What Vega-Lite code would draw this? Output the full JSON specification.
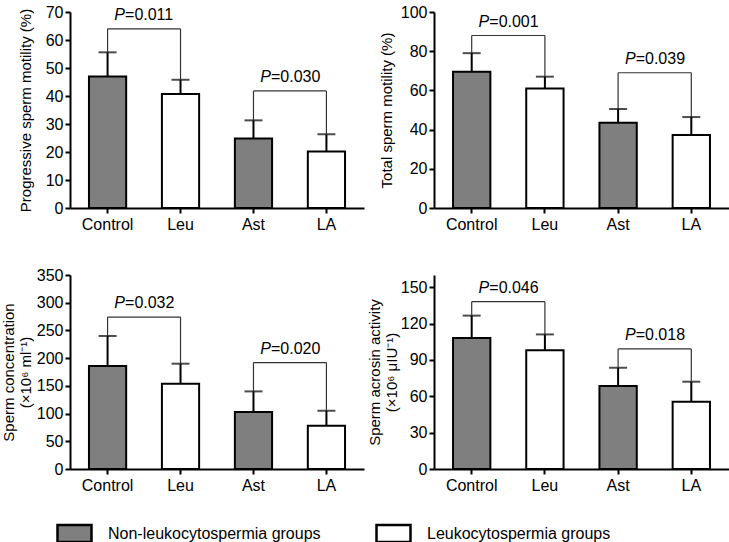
{
  "$schema": "https://vega.github.io/schema/vega-lite/v6.json",
  "padding": {"left": 1, "top": 4, "right": 0, "bottom": 0},
  "background": "white",
  "datasets": {
    "b1": [
      {"group": "Control", "mean": 47, "upper": 55.6, "type": "Non-leukocytospermia groups"},
      {"group": "Leu", "mean": 40.7, "upper": 45.8, "type": "Leukocytospermia groups"},
      {"group": "Ast", "mean": 24.8, "upper": 31.3, "type": "Non-leukocytospermia groups"},
      {"group": "LA", "mean": 20.2, "upper": 26.3, "type": "Leukocytospermia groups"}
    ],
    "k1": [
      {"from": "Control", "to": "Leu", "y": 64, "lefty": 55.6, "righty": 45.8, "p": "P", "v": "=0.011"},
      {"from": "Ast", "to": "LA", "y": 41.8, "lefty": 31.3, "righty": 26.3, "p": "P", "v": "=0.030"}
    ],
    "b2": [
      {"group": "Control", "mean": 69.5, "upper": 79, "type": "Non-leukocytospermia groups"},
      {"group": "Leu", "mean": 61, "upper": 67, "type": "Leukocytospermia groups"},
      {"group": "Ast", "mean": 43.5, "upper": 50.5, "type": "Non-leukocytospermia groups"},
      {"group": "LA", "mean": 37.2, "upper": 46.4, "type": "Leukocytospermia groups"}
    ],
    "k2": [
      {"from": "Control", "to": "Leu", "y": 88, "lefty": 79, "righty": 67, "p": "P", "v": "=0.001"},
      {"from": "Ast", "to": "LA", "y": 69, "lefty": 50.5, "righty": 46.4, "p": "P", "v": "=0.039"}
    ],
    "b3": [
      {"group": "Control", "mean": 186, "upper": 240, "type": "Non-leukocytospermia groups"},
      {"group": "Leu", "mean": 154, "upper": 190, "type": "Leukocytospermia groups"},
      {"group": "Ast", "mean": 103, "upper": 140, "type": "Non-leukocytospermia groups"},
      {"group": "LA", "mean": 78, "upper": 105, "type": "Leukocytospermia groups"}
    ],
    "k3": [
      {"from": "Control", "to": "Leu", "y": 274, "lefty": 240, "righty": 190, "p": "P", "v": "=0.032"},
      {"from": "Ast", "to": "LA", "y": 192, "lefty": 140, "righty": 105, "p": "P", "v": "=0.020"}
    ],
    "b4": [
      {"group": "Control", "mean": 108, "upper": 126.5, "type": "Non-leukocytospermia groups"},
      {"group": "Leu", "mean": 98, "upper": 111, "type": "Leukocytospermia groups"},
      {"group": "Ast", "mean": 68.5, "upper": 83.5, "type": "Non-leukocytospermia groups"},
      {"group": "LA", "mean": 55.5, "upper": 72, "type": "Leukocytospermia groups"}
    ],
    "k4": [
      {"from": "Control", "to": "Leu", "y": 138, "lefty": 126.5, "righty": 111, "p": "P", "v": "=0.046"},
      {"from": "Ast", "to": "LA", "y": 99, "lefty": 83.5, "righty": 72, "p": "P", "v": "=0.018"}
    ]
  },
  "columns": 2,
  "spacing": {"row": 35, "column": 3},
  "concat": [
    {
      "width": 294, "height": 196,
      "layer": [
        {"data": {"name": "b1"}, "mark": {"type": "bar", "stroke": "black", "strokeWidth": 2},
         "encoding": {
           "x": {"field": "group", "type": "nominal", "scale": {"domain": ["Control", "Leu", "Ast", "LA"], "paddingInner": 0.49, "paddingOuter": 0.26}},
           "y": {"field": "mean", "type": "quantitative", "scale": {"domain": [0, 70]}, "axis": {"values": [0, 10, 20, 30, 40, 50, 60, 70], "tickCount": 20, "title": "Progressive sperm motility (%)", "titlePadding": 12}},
           "fill": {"field": "type", "type": "nominal", "scale": {"domain": ["Non-leukocytospermia groups", "Leukocytospermia groups"], "range": ["#7f7f7f", "#ffffff"]}}
         }},
        {"data": {"name": "b1"}, "mark": {"type": "rule", "strokeWidth": 2, "color": "black"},
         "encoding": {"x": {"field": "group", "type": "nominal"}, "y": {"field": "mean", "type": "quantitative"}, "y2": {"field": "upper"}}},
        {"data": {"name": "b1"}, "mark": {"type": "tick", "size": 18, "thickness": 2, "color": "black"},
         "encoding": {"x": {"field": "group", "type": "nominal"}, "y": {"field": "upper", "type": "quantitative"}}},
        {"data": {"name": "k1"}, "mark": {"type": "rule", "strokeWidth": 1.2, "color": "#333333"},
         "encoding": {"x": {"field": "from", "type": "nominal"}, "x2": {"field": "to"}, "y": {"field": "y", "type": "quantitative"}}},
        {"data": {"name": "k1"}, "mark": {"type": "rule", "strokeWidth": 1.2, "color": "#333333"},
         "encoding": {"x": {"field": "from", "type": "nominal"}, "y": {"field": "y", "type": "quantitative"}, "y2": {"field": "lefty"}}},
        {"data": {"name": "k1"}, "mark": {"type": "rule", "strokeWidth": 1.2, "color": "#333333"},
         "encoding": {"x": {"field": "to", "type": "nominal"}, "y": {"field": "y", "type": "quantitative"}, "y2": {"field": "righty"}}},
        {"data": {"name": "k1"}, "mark": {"type": "text", "fontStyle": "italic", "fontSize": 16, "align": "right", "baseline": "alphabetic", "dx": -19, "dy": -9, "color": "black"},
         "encoding": {"x": {"field": "from", "type": "nominal", "bandPosition": 1.48}, "y": {"field": "y", "type": "quantitative"}, "text": {"field": "p"}}},
        {"data": {"name": "k1"}, "mark": {"type": "text", "fontSize": 16, "align": "left", "baseline": "alphabetic", "dx": -19, "dy": -9, "color": "black"},
         "encoding": {"x": {"field": "from", "type": "nominal", "bandPosition": 1.48}, "y": {"field": "y", "type": "quantitative"}, "text": {"field": "v"}}}
      ]
    },
    {
      "width": 295, "height": 196,
      "layer": [
        {"data": {"name": "b2"}, "mark": {"type": "bar", "stroke": "black", "strokeWidth": 2},
         "encoding": {
           "x": {"field": "group", "type": "nominal", "scale": {"domain": ["Control", "Leu", "Ast", "LA"], "paddingInner": 0.49, "paddingOuter": 0.26}},
           "y": {"field": "mean", "type": "quantitative", "scale": {"domain": [0, 100]}, "axis": {"values": [0, 20, 40, 60, 80, 100], "tickCount": 20, "title": "Total sperm motility (%)", "titlePadding": 6}},
           "fill": {"field": "type", "type": "nominal", "scale": {"domain": ["Non-leukocytospermia groups", "Leukocytospermia groups"], "range": ["#7f7f7f", "#ffffff"]}}
         }},
        {"data": {"name": "b2"}, "mark": {"type": "rule", "strokeWidth": 2, "color": "black"},
         "encoding": {"x": {"field": "group", "type": "nominal"}, "y": {"field": "mean", "type": "quantitative"}, "y2": {"field": "upper"}}},
        {"data": {"name": "b2"}, "mark": {"type": "tick", "size": 18, "thickness": 2, "color": "black"},
         "encoding": {"x": {"field": "group", "type": "nominal"}, "y": {"field": "upper", "type": "quantitative"}}},
        {"data": {"name": "k2"}, "mark": {"type": "rule", "strokeWidth": 1.2, "color": "#333333"},
         "encoding": {"x": {"field": "from", "type": "nominal"}, "x2": {"field": "to"}, "y": {"field": "y", "type": "quantitative"}}},
        {"data": {"name": "k2"}, "mark": {"type": "rule", "strokeWidth": 1.2, "color": "#333333"},
         "encoding": {"x": {"field": "from", "type": "nominal"}, "y": {"field": "y", "type": "quantitative"}, "y2": {"field": "lefty"}}},
        {"data": {"name": "k2"}, "mark": {"type": "rule", "strokeWidth": 1.2, "color": "#333333"},
         "encoding": {"x": {"field": "to", "type": "nominal"}, "y": {"field": "y", "type": "quantitative"}, "y2": {"field": "righty"}}},
        {"data": {"name": "k2"}, "mark": {"type": "text", "fontStyle": "italic", "fontSize": 16, "align": "right", "baseline": "alphabetic", "dx": -19, "dy": -9, "color": "black"},
         "encoding": {"x": {"field": "from", "type": "nominal", "bandPosition": 1.48}, "y": {"field": "y", "type": "quantitative"}, "text": {"field": "p"}}},
        {"data": {"name": "k2"}, "mark": {"type": "text", "fontSize": 16, "align": "left", "baseline": "alphabetic", "dx": -19, "dy": -9, "color": "black"},
         "encoding": {"x": {"field": "from", "type": "nominal", "bandPosition": 1.48}, "y": {"field": "y", "type": "quantitative"}, "text": {"field": "v"}}}
      ]
    },
    {
      "width": 294, "height": 194,
      "layer": [
        {"data": {"name": "b3"}, "mark": {"type": "bar", "stroke": "black", "strokeWidth": 2},
         "encoding": {
           "x": {"field": "group", "type": "nominal", "scale": {"domain": ["Control", "Leu", "Ast", "LA"], "paddingInner": 0.49, "paddingOuter": 0.26}},
           "y": {"field": "mean", "type": "quantitative", "scale": {"domain": [0, 350]}, "axis": {"values": [0, 50, 100, 150, 200, 250, 300, 350], "tickCount": 20, "title": ["Sperm concentration", "(×10⁶ ml⁻¹)"], "titlePadding": 3}},
           "fill": {"field": "type", "type": "nominal", "scale": {"domain": ["Non-leukocytospermia groups", "Leukocytospermia groups"], "range": ["#7f7f7f", "#ffffff"]}}
         }},
        {"data": {"name": "b3"}, "mark": {"type": "rule", "strokeWidth": 2, "color": "black"},
         "encoding": {"x": {"field": "group", "type": "nominal"}, "y": {"field": "mean", "type": "quantitative"}, "y2": {"field": "upper"}}},
        {"data": {"name": "b3"}, "mark": {"type": "tick", "size": 18, "thickness": 2, "color": "black"},
         "encoding": {"x": {"field": "group", "type": "nominal"}, "y": {"field": "upper", "type": "quantitative"}}},
        {"data": {"name": "k3"}, "mark": {"type": "rule", "strokeWidth": 1.2, "color": "#333333"},
         "encoding": {"x": {"field": "from", "type": "nominal"}, "x2": {"field": "to"}, "y": {"field": "y", "type": "quantitative"}}},
        {"data": {"name": "k3"}, "mark": {"type": "rule", "strokeWidth": 1.2, "color": "#333333"},
         "encoding": {"x": {"field": "from", "type": "nominal"}, "y": {"field": "y", "type": "quantitative"}, "y2": {"field": "lefty"}}},
        {"data": {"name": "k3"}, "mark": {"type": "rule", "strokeWidth": 1.2, "color": "#333333"},
         "encoding": {"x": {"field": "to", "type": "nominal"}, "y": {"field": "y", "type": "quantitative"}, "y2": {"field": "righty"}}},
        {"data": {"name": "k3"}, "mark": {"type": "text", "fontStyle": "italic", "fontSize": 16, "align": "right", "baseline": "alphabetic", "dx": -19, "dy": -9, "color": "black"},
         "encoding": {"x": {"field": "from", "type": "nominal", "bandPosition": 1.48}, "y": {"field": "y", "type": "quantitative"}, "text": {"field": "p"}}},
        {"data": {"name": "k3"}, "mark": {"type": "text", "fontSize": 16, "align": "left", "baseline": "alphabetic", "dx": -19, "dy": -9, "color": "black"},
         "encoding": {"x": {"field": "from", "type": "nominal", "bandPosition": 1.48}, "y": {"field": "y", "type": "quantitative"}, "text": {"field": "v"}}}
      ]
    },
    {
      "width": 295, "height": 194,
      "layer": [
        {"data": {"name": "b4"}, "mark": {"type": "bar", "stroke": "black", "strokeWidth": 2},
         "encoding": {
           "x": {"field": "group", "type": "nominal", "scale": {"domain": ["Control", "Leu", "Ast", "LA"], "paddingInner": 0.49, "paddingOuter": 0.26}},
           "y": {"field": "mean", "type": "quantitative", "scale": {"domain": [0, 150]}, "axis": {"values": [0, 30, 60, 90, 120, 150], "tickCount": 20, "title": ["Sperm acrosin activity", "(×10⁶ μIU⁻¹)"], "titlePadding": 1}},
           "fill": {"field": "type", "type": "nominal", "scale": {"domain": ["Non-leukocytospermia groups", "Leukocytospermia groups"], "range": ["#7f7f7f", "#ffffff"]}}
         }},
        {"data": {"name": "b4"}, "mark": {"type": "rule", "strokeWidth": 2, "color": "black"},
         "encoding": {"x": {"field": "group", "type": "nominal"}, "y": {"field": "mean", "type": "quantitative"}, "y2": {"field": "upper"}}},
        {"data": {"name": "b4"}, "mark": {"type": "tick", "size": 18, "thickness": 2, "color": "black"},
         "encoding": {"x": {"field": "group", "type": "nominal"}, "y": {"field": "upper", "type": "quantitative"}}},
        {"data": {"name": "k4"}, "mark": {"type": "rule", "strokeWidth": 1.2, "color": "#333333"},
         "encoding": {"x": {"field": "from", "type": "nominal"}, "x2": {"field": "to"}, "y": {"field": "y", "type": "quantitative"}}},
        {"data": {"name": "k4"}, "mark": {"type": "rule", "strokeWidth": 1.2, "color": "#333333"},
         "encoding": {"x": {"field": "from", "type": "nominal"}, "y": {"field": "y", "type": "quantitative"}, "y2": {"field": "lefty"}}},
        {"data": {"name": "k4"}, "mark": {"type": "rule", "strokeWidth": 1.2, "color": "#333333"},
         "encoding": {"x": {"field": "to", "type": "nominal"}, "y": {"field": "y", "type": "quantitative"}, "y2": {"field": "righty"}}},
        {"data": {"name": "k4"}, "mark": {"type": "text", "fontStyle": "italic", "fontSize": 16, "align": "right", "baseline": "alphabetic", "dx": -19, "dy": -9, "color": "black"},
         "encoding": {"x": {"field": "from", "type": "nominal", "bandPosition": 1.48}, "y": {"field": "y", "type": "quantitative"}, "text": {"field": "p"}}},
        {"data": {"name": "k4"}, "mark": {"type": "text", "fontSize": 16, "align": "left", "baseline": "alphabetic", "dx": -19, "dy": -9, "color": "black"},
         "encoding": {"x": {"field": "from", "type": "nominal", "bandPosition": 1.48}, "y": {"field": "y", "type": "quantitative"}, "text": {"field": "v"}}}
      ]
    }
  ],
  "config": {
    "font": "Liberation Sans",
    "view": {"stroke": null},
    "axis": {"labelColor": "black", "titleColor": "black", "domainColor": "black", "tickColor": "black", "domainWidth": 2, "tickWidth": 2, "tickSize": 5, "labelFontSize": 16, "titleFontSize": 15, "titleFontWeight": "normal", "grid": false, "labelOverlap": false},
    "axisX": {"labelAngle": 0, "title": null, "labelPadding": 3},
    "axisY": {"labelFontSize": 16, "labelPadding": 2, "titleLineHeight": 17},
    "legend": {"orient": "none", "legendX": -14, "legendY": 503, "direction": "horizontal", "title": null, "symbolType": "M-1,-0.5H1V0.5H-1Z", "symbolSize": 1156, "symbolStrokeColor": "black", "symbolStrokeWidth": 2.5, "labelFontSize": 16, "labelColor": "black", "labelOffset": 15, "labelLimit": 400, "columnPadding": 50}
  }
}
